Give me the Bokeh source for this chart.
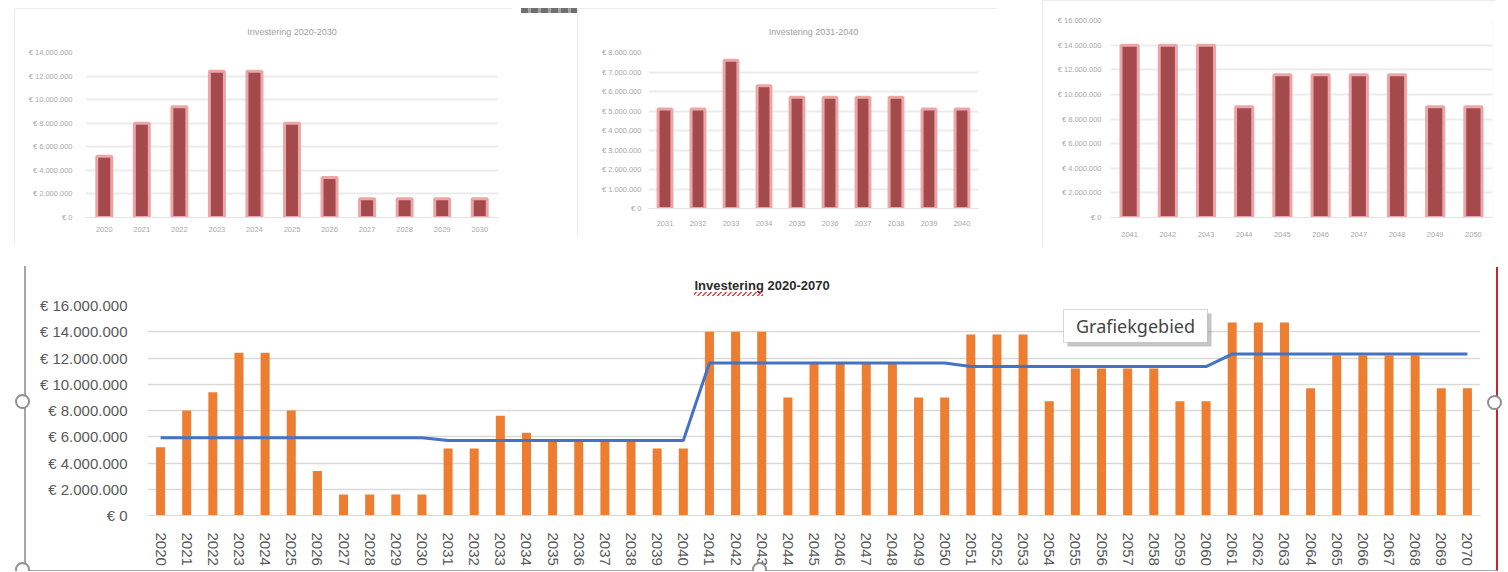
from bokeh.plotting import figure
from bokeh.models import FactorRange, Range1d, BoxAnnotation, Label, Div, Spacer, ColumnDataSource
from bokeh.layouts import row, column
from bokeh.embed import file_html
from bokeh.resources import INLINE

# ---------------- data ----------------
years = ["2020", "2021", "2022", "2023", "2024", "2025", "2026", "2027", "2028", "2029", "2030",
         "2031", "2032", "2033", "2034", "2035", "2036", "2037", "2038", "2039", "2040",
         "2041", "2042", "2043", "2044", "2045", "2046", "2047", "2048", "2049", "2050",
         "2051", "2052", "2053", "2054", "2055", "2056", "2057", "2058", "2059", "2060",
         "2061", "2062", "2063", "2064", "2065", "2066", "2067", "2068", "2069", "2070"]

investering = [5200000, 8000000, 9400000, 12400000, 12400000, 8000000, 3400000, 1600000, 1600000, 1600000, 1600000,
               5100000, 5100000, 7600000, 6300000, 5700000, 5700000, 5700000, 5700000, 5100000, 5100000,
               14000000, 14000000, 14000000, 9000000, 11600000, 11600000, 11600000, 11600000, 9000000, 9000000,
               13800000, 13800000, 13800000, 8700000, 11200000, 11200000, 11200000, 11200000, 8700000, 8700000,
               14700000, 14700000, 14700000, 9700000, 12200000, 12200000, 12200000, 12200000, 9700000, 9700000]

gemiddelde = [5930000, 5930000, 5930000, 5930000, 5930000, 5930000, 5930000, 5930000, 5930000, 5930000, 5930000,
              5720000, 5720000, 5720000, 5720000, 5720000, 5720000, 5720000, 5720000, 5720000, 5720000,
              11620000, 11620000, 11620000, 11620000, 11620000, 11620000, 11620000, 11620000, 11620000, 11620000,
              11350000, 11350000, 11350000, 11350000, 11350000, 11350000, 11350000, 11350000, 11350000, 11350000,
              12300000, 12300000, 12300000, 12300000, 12300000, 12300000, 12300000, 12300000, 12300000, 12300000]

main_ticks = [0, 2000000, 4000000, 6000000, 8000000, 10000000, 12000000, 14000000, 16000000]
main_tick_labels = ["€ 0", "€ 2.000.000", "€ 4.000.000", "€ 6.000.000", "€ 8.000.000",
                    "€ 10.000.000", "€ 12.000.000", "€ 14.000.000", "€ 16.000.000"]

top1_ticks = [0, 2000000, 4000000, 6000000, 8000000, 10000000, 12000000, 14000000]
top1_tick_labels = ["€ 0", "€ 2.000.000", "€ 4.000.000", "€ 6.000.000", "€ 8.000.000",
                    "€ 10.000.000", "€ 12.000.000", "€ 14.000.000"]
top2_ticks = [0, 1000000, 2000000, 3000000, 4000000, 5000000, 6000000, 7000000, 8000000]
top2_tick_labels = ["€ 0", "€ 1.000.000", "€ 2.000.000", "€ 3.000.000", "€ 4.000.000",
                    "€ 5.000.000", "€ 6.000.000", "€ 7.000.000", "€ 8.000.000"]
top3_ticks = main_ticks
top3_tick_labels = main_tick_labels

main_title = "Investering 2020-2070"
top1_title = "Investering 2020-2030"
top2_title = "Investering 2031-2040"
tooltip_text = "Grafiekgebied"


# ---------------- small (blurred) charts on top ----------------
def small_chart(cats, vals, w, h, bl, br, bt, bb, ymax, ticks, labels, title, tstand, xstand, ystand, bw):
    p = figure(width=w, height=h, x_range=FactorRange(factors=cats), y_range=Range1d(0, ymax),
               output_backend="svg", toolbar_location=None,
               min_border_left=bl, min_border_right=br, min_border_top=bt, min_border_bottom=bb)
    p.vbar(x=cats, top=vals, width=bw, fill_color="#a54a4c", line_color="#eba7a8", line_width=3)
    p.outline_line_color = None
    p.xgrid.grid_line_color = None
    p.ygrid.grid_line_color = "#ececec"
    p.ygrid.grid_line_width = 2
    p.yaxis.ticker = ticks
    p.yaxis.major_label_overrides = {t: l for t, l in zip(ticks, labels)}
    for ax in (p.xaxis, p.yaxis):
        ax.major_tick_line_color = None
        ax.minor_tick_line_color = None
        ax.major_label_text_color = "#a8a8a8"
        ax.major_label_text_font = "Liberation Sans"
        ax.major_label_text_font_size = "7.5px"
    p.yaxis.axis_line_color = None
    p.xaxis.axis_line_color = "#e3e3e3"
    p.xaxis.major_label_standoff = xstand
    p.yaxis.major_label_standoff = ystand
    if title:
        p.title.text = title
        p.title.align = "center"
        p.title.text_color = "#a0a0a0"
        p.title.text_font = "Liberation Sans"
        p.title.text_font_size = "9px"
        p.title.text_font_style = "normal"
        p.title.standoff = tstand
    p.styles = {"outline": "3px solid #e6e6e6", "outline-offset": "-3px"}
    return p


f1 = small_chart(years[0:11], investering[0:11], 498, 237, 71, 14, 42, 28, 14000000,
                 top1_ticks, top1_tick_labels, top1_title, 32, 3, 7, 0.4)
f2 = small_chart(years[11:21], investering[11:21], 420, 229, 71, 19, 39, 29, 8000000,
                 top2_ticks, top2_tick_labels, top2_title, 32, 6, 1, 0.42)
f3 = small_chart(years[21:31], investering[21:31], 453, 247, 68, 3, 20, 30, 16000000,
                 top3_ticks, top3_tick_labels, None, 0, 8, 3, 0.45)

gap_div = Div(width=65, height=250, margin=0, text=(
    '<div style="position:relative;width:65px;height:250px">'
    '<div style="position:absolute;left:9px;top:8px;width:56px;height:5px;'
    'background:repeating-linear-gradient(90deg,#707070 0px,#707070 7px,#a3a3a3 7px,#a3a3a3 10px)"></div>'
    '</div>'))

top_row = row(Spacer(width=14, height=250),
              column(Spacer(width=498, height=8), f1),
              gap_div,
              column(Spacer(width=420, height=8), f2),
              Spacer(width=45, height=250),
              f3)

# ---------------- main chart ----------------
W, H = 1456, 321
BL, BR, BT, BB = 113, 10, 55, 56
YMAX = 16000000

src = ColumnDataSource(dict(jaar=years, investering=investering, gemiddelde=gemiddelde))

p = figure(width=W, height=H, x_range=FactorRange(factors=years), y_range=Range1d(0, YMAX),
           output_backend="svg", toolbar_location=None,
           min_border_left=BL, min_border_right=BR, min_border_top=BT, min_border_bottom=BB)
p.vbar(x="jaar", top="investering", width=0.345, source=src, fill_color="#ED7D31", line_color=None)
p.line(x="jaar", y="gemiddelde", source=src, line_color="#4472C4", line_width=3)

p.outline_line_color = None
p.xgrid.grid_line_color = None
p.ygrid.grid_line_color = "#d9d9d9"
p.ygrid.grid_line_width = 1.3
p.yaxis.ticker = main_ticks
p.yaxis.major_label_overrides = {t: l for t, l in zip(main_ticks, main_tick_labels)}
for ax in (p.xaxis, p.yaxis):
    ax.major_tick_line_color = None
    ax.minor_tick_line_color = None
    ax.major_label_text_color = "#595959"
    ax.major_label_text_font = "Liberation Sans"
    ax.major_label_text_font_size = "15px"
p.yaxis.axis_line_color = None
p.xaxis.axis_line_color = "#d9d9d9"
p.xaxis.major_label_orientation = "vertical"
p.xaxis.major_label_standoff = 11
p.yaxis.major_label_standoff = 14

p.title.text = main_title
p.title.align = "left"
p.title.offset = 694 - (34 + BL)
p.title.standoff = 26
p.title.text_font = "Liberation Sans"
p.title.text_font_size = "13px"
p.title.text_font_style = "bold"
p.title.text_color = "#2b2b2b"

# page-pixel -> data helpers for the "Grafiekgebied" tooltip box
FRAME_LEFT_PAGE = 34 + BL
CAT_W = (W - BL - BR) / len(years)
ZERO_PAGE_Y = 250 + H - BB
PX_PER_EURO = (H - BT - BB) / YMAX


def dx(page_x):
    return (page_x - FRAME_LEFT_PAGE) / CAT_W


def dy(page_y):
    return (ZERO_PAGE_Y - page_y) / PX_PER_EURO


p.add_layout(BoxAnnotation(left=dx(1067), right=dx(1211), top=dy(313), bottom=dy(346),
                           fill_color="#7f7f7f", fill_alpha=0.45, line_color=None))
p.add_layout(BoxAnnotation(left=dx(1063), right=dx(1207), top=dy(309), bottom=dy(342),
                           fill_color="#ffffff", fill_alpha=1.0, line_color="#7a7a7a", line_width=1))
p.add_layout(Label(x=dx(1135), y=dy(325.5), text=tooltip_text, text_align="center", text_baseline="middle",
                   text_font="Noto Sans", text_font_size="18px", text_color="#454545"))

# selection frame of the chart (handles, borders, spell-check squiggle) drawn as an HTML overlay
ring = ('position:absolute;width:15px;height:15px;border:2.5px solid #909090;'
        'border-radius:50%;background:#ffffff;')
overlay = (
    '<div style="position:relative;width:34px;height:321px">'
    '<div style="position:absolute;left:0px;top:0px;width:1507px;height:321px;overflow:hidden;'
    'z-index:20;pointer-events:none">'
    '<div style="position:absolute;left:24px;top:16px;width:2px;height:310px;background:#a6a6a6"></div>'
    '<div style="position:absolute;left:1496px;top:17px;width:2px;height:310px;background:#c0282d"></div>'
    '<div style="position:absolute;left:25px;top:320px;width:1472px;height:2px;background:#a6a6a6"></div>'
    '<div style="' + ring + 'left:15px;top:144px"></div>'
    '<div style="' + ring + 'left:1487px;top:145px"></div>'
    '<div style="' + ring + 'left:15px;top:312px"></div>'
    '<div style="' + ring + 'left:752px;top:312px"></div>'
    '<div style="position:absolute;left:694px;top:42px;width:69px;height:4px;'
    'background:repeating-linear-gradient(135deg,transparent 0px,transparent 1.2px,#e23b3b 1.2px,#e23b3b 2.6px,transparent 2.6px,transparent 3.5px);'
    'opacity:0.9"></div>'
    '</div></div>')
left_div = Div(width=34, height=H, margin=0, text=overlay)

bottom_row = row(left_div, p, Spacer(width=17, height=H))
layout = column(top_row, bottom_row)

open("out.html", "w").write(file_html(layout, INLINE))
